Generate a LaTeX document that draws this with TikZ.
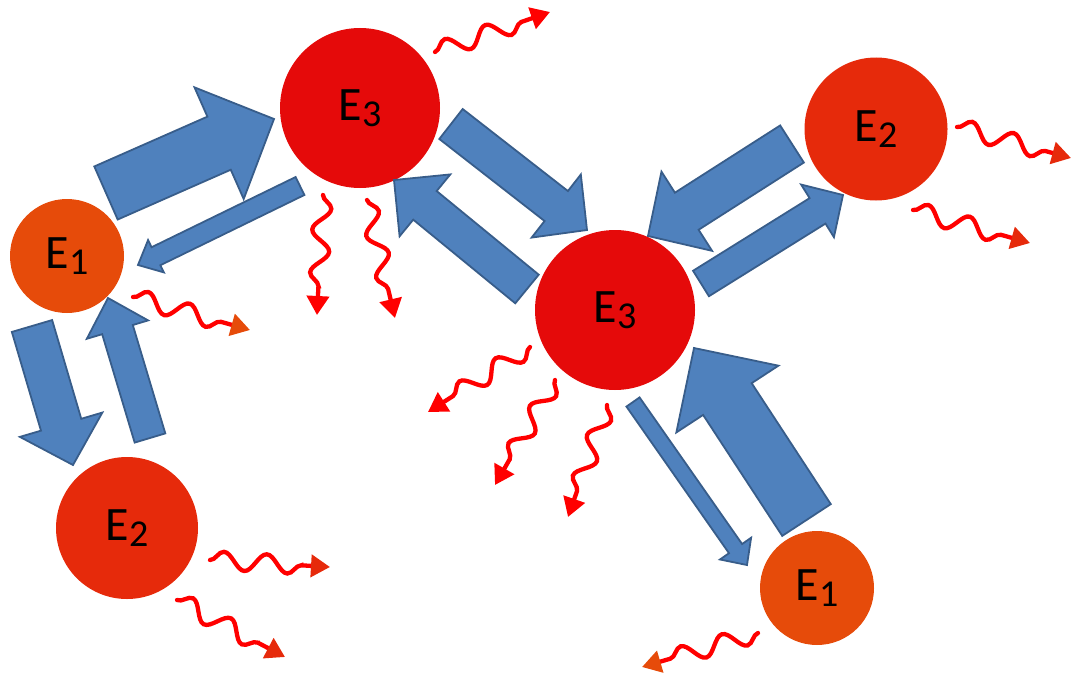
\documentclass[tikz,border=0pt]{standalone}
\usepackage{fontspec}
\setmainfont{Carlito}
\usetikzlibrary{calc,arrows.meta,decorations.pathmorphing}
\definecolor{cEthree}{HTML}{E50A0A}
\definecolor{cEtwo}{HTML}{E62A0B}
\definecolor{cEone}{HTML}{E64B0A}
\definecolor{arrowfill}{HTML}{4F81BD}
\definecolor{arrowline}{HTML}{385D8A}
\definecolor{wavered}{HTML}{FF0000}
\tikzset{
  state/.style={circle, inner sep=0pt, font=\fontsize{48}{56}\selectfont},
  blockarr/.style={fill=arrowfill, draw=arrowline, line width=1.8pt, line join=miter},
  wave/.style={draw=wavered, line width=4.3pt, line cap=round, decorate,
    decoration={snake, segment length=43pt, amplitude=9pt, post length=16pt}},
  headthree/.style={-{Triangle[length=19pt,width=22pt,color=wavered]}},
  headtwo/.style={-{Triangle[length=19pt,width=22pt,color=cEtwo]}},
  headone/.style={-{Triangle[length=19pt,width=22pt,color=cEone]}},
}
\newcommand\sub[1]{\raisebox{-6pt}{\fontsize{38}{40}\selectfont #1}}
% #1 tail, #2 tip, #3 half shaft width, #4 half head width, #5 head length
\newcommand\blockarrow[5]{%
  \coordinate (bac) at ($(#2)!#5!(#1)$);
  \draw[blockarr] ($(#1)!#3!90:(#2)$) -- ($(bac)!#3!-90:(#1)$) -- ($(bac)!#4!-90:(#1)$)
    -- (#2) -- ($(bac)!#4!90:(#1)$) -- ($(bac)!#3!90:(#1)$) -- ($(#1)!#3!-90:(#2)$) -- cycle;
}
\begin{document}
\begin{tikzpicture}[x=1pt,y=-1pt]
\useasboundingbox (0,0) rectangle (1073,677);
% states
\node[state, fill=cEthree, minimum size=160pt] (e3a) at (360,108) {E\sub{3}};
\node[state, fill=cEthree, minimum size=160pt] (e3b) at (615,310) {E\sub{3}};
\node[state, fill=cEone, minimum size=114pt] (e1a) at (67,256) {E\sub{1}};
\node[state, fill=cEone, minimum size=114pt] (e1b) at (817,588) {E\sub{1}};
\node[state, fill=cEtwo, minimum size=142pt] (e2a) at (127,528) {E\sub{2}};
\node[state, fill=cEtwo, minimum size=143pt] (e2b) at (876,129) {E\sub{2}};
% block arrow ends
\coordinate (a1s) at (106,193);   \coordinate (a1e) at (274,119);
\coordinate (a2s) at (300,186);   \coordinate (a2e) at (138,265);
\coordinate (a3s) at (451,124);   \coordinate (a3e) at (587,230);
\coordinate (a4s) at (527,289);   \coordinate (a4e) at (394,180);
\coordinate (a5s) at (792,144);   \coordinate (a5e) at (648,236);
\coordinate (a6s) at (701,283.5); \coordinate (a6e) at (843,195);
\coordinate (a7s) at (806.5,520); \coordinate (a7e) at (694,348);
\coordinate (a8s) at (633,402);   \coordinate (a8e) at (747,565);
\coordinate (a9s) at (32,326);    \coordinate (a9e) at (73,465);
\coordinate (a10s) at (150,438);  \coordinate (a10e) at (108,298);
\blockarrow{a1s}{a1e}{29pt}{61pt}{60pt}
\blockarrow{a2s}{a2e}{10pt}{18pt}{20pt}
\blockarrow{a3s}{a3e}{19pt}{40pt}{39pt}
\blockarrow{a4s}{a4e}{18.5pt}{40pt}{40pt}
\blockarrow{a5s}{a5e}{22pt}{47pt}{46pt}
\blockarrow{a6s}{a6e}{15pt}{31pt}{30pt}
\blockarrow{a7s}{a7e}{29pt}{61pt}{61pt}
\blockarrow{a8s}{a8e}{8pt}{19pt}{20pt}
\blockarrow{a9s}{a9e}{21pt}{43pt}{42pt}
\blockarrow{a10s}{a10e}{16pt}{32pt}{33pt}
% emission squiggles
\coordinate (w1s) at (435,52);  \coordinate (w1e) at (550,12);
\coordinate (w2s) at (323,195); \coordinate (w2e) at (317,315);
\coordinate (w3s) at (367,200); \coordinate (w3e) at (395,318);
\coordinate (w4s) at (133,297); \coordinate (w4e) at (250,330);
\coordinate (w5s) at (210,560); \coordinate (w5e) at (330,567);
\coordinate (w6s) at (177,600); \coordinate (w6e) at (285,657);
\coordinate (w7s) at (957,127); \coordinate (w7e) at (1071,158);
\coordinate (w8s) at (913,210); \coordinate (w8e) at (1030,243);
\coordinate (w9s) at (530,347); \coordinate (w9e) at (428,412);
\coordinate (w10s) at (555,380); \coordinate (w10e) at (495,485);
\coordinate (w11s) at (607,405); \coordinate (w11e) at (568,517);
\coordinate (w12s) at (758,633); \coordinate (w12e) at (642,667);
\draw[wave, headthree] (w1s) -- (w1e);
\draw[wave, headthree] (w2s) -- (w2e);
\draw[wave, headthree] (w3s) -- (w3e);
\draw[wave, headone] (w4s) -- (w4e);
\draw[wave, headtwo] (w5s) -- (w5e);
\draw[wave, headtwo] (w6s) -- (w6e);
\draw[wave, headtwo] (w7s) -- (w7e);
\draw[wave, headtwo] (w8s) -- (w8e);
\draw[wave, headthree] (w9s) -- (w9e);
\draw[wave, headthree] (w10s) -- (w10e);
\draw[wave, headthree] (w11s) -- (w11e);
\draw[wave, headone] (w12s) -- (w12e);
\end{tikzpicture}
\end{document}
